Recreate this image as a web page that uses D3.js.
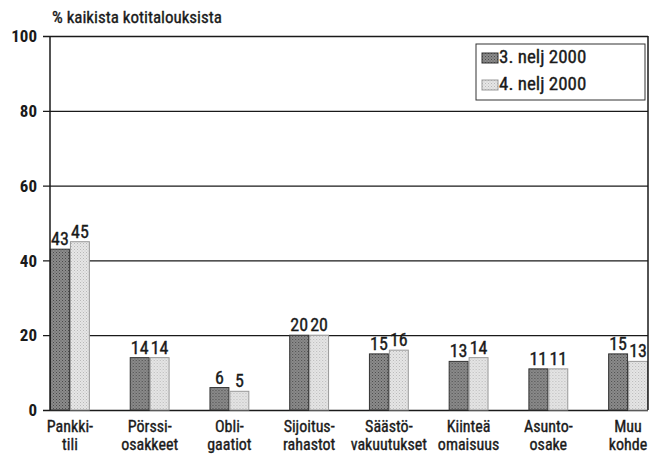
<!DOCTYPE html>
<html>
<head>
<meta charset="utf-8">
<script src="https://cdn.jsdelivr.net/npm/d3@7"></script>
<style>
  body { margin: 0; background: #fff; }
  text { font-family: "Liberation Sans Narrow", "Arial Narrow", "Roboto Condensed", "DejaVu Sans Condensed", sans-serif; fill: #1a1a1a; stroke: #1a1a1a; stroke-width: 0.35px; }
</style>
</head>
<body>
<script>
// data
var categories = [["Pankki-", "tili"], ["Pörssi-", "osakkeet"], ["Obli-", "gaatiot"],
                  ["Sijoitus-", "rahastot"], ["Säästö-", "vakuutukset"], ["Kiinteä", "omaisuus"],
                  ["Asunto-", "osake"], ["Muu", "kohde"]];
var seriesNames = ["3. nelj 2000", "4. nelj 2000"];
var q3 = [43, 14, 6, 20, 15, 13, 11, 15];
var q4 = [45, 14, 5, 20, 16, 14, 11, 13];
var yTicks = [0, 20, 40, 60, 80, 100];
var yTitle = "% kaikista kotitalouksista";

var width = 653, height = 458;
var margin = {top: 36, right: 5, bottom: 48, left: 50};
var w = width - margin.left - margin.right,
    h = height - margin.top - margin.bottom;

var svg = d3.select("body").append("svg")
    .attr("width", width)
    .attr("height", height);

// patterns for the two series
var defs = svg.append("defs");
var dark = defs.append("pattern").attr("id", "pDark")
    .attr("width", 3).attr("height", 3).attr("patternUnits", "userSpaceOnUse");
dark.append("rect").attr("width", 3).attr("height", 3).attr("fill", "#8c8c8c");
dark.append("rect").attr("width", 1).attr("height", 1).attr("fill", "#4a4a4a");
dark.append("rect").attr("x", 1.5).attr("y", 1.5).attr("width", 1).attr("height", 1).attr("fill", "#5a5a5a");
var light = defs.append("pattern").attr("id", "pLight")
    .attr("width", 3).attr("height", 3).attr("patternUnits", "userSpaceOnUse");
light.append("rect").attr("width", 3).attr("height", 3).attr("fill", "#e6e6e6");
light.append("rect").attr("width", 1).attr("height", 1).attr("fill", "#b8b8b8");
light.append("rect").attr("x", 1.5).attr("y", 1.5).attr("width", 1).attr("height", 1).attr("fill", "#c4c4c4");
var fills = ["url(#pDark)", "url(#pLight)"];
var strokes = ["#333", "#999"];

var g = svg.append("g")
    .attr("transform", "translate(" + margin.left + "," + margin.top + ")");

var x0 = d3.scaleBand().domain(d3.range(categories.length))
    .range([0, w]).paddingInner(0.5).paddingOuter(0).align(0);
var x1 = d3.scaleBand().domain([0, 1]).range([0, x0.bandwidth()]);
var y = d3.scaleLinear().domain([0, 100]).range([h, 0]);

// gridlines with little ticks to the left
g.append("g")
    .call(d3.axisLeft(y).tickValues(yTicks).tickSize(-w - 7).tickFormat(""))
    .attr("transform", "translate(-7,0)")
    .call(function(s) {
      s.select(".domain").remove();
      s.selectAll("line").attr("stroke", "#1a1a1a").attr("stroke-width", 1.3)
        .attr("x2", w + 7).attr("x1", 0);
    });

// y tick labels
g.append("g").selectAll("text")
    .data(yTicks)
  .enter().append("text")
    .attr("x", -13)
    .attr("y", function(d) { return y(d); })
    .attr("dy", "0.36em")
    .attr("text-anchor", "end")
    .style("font-size", "17px")
    .style("font-weight", "bold")
    .style("stroke-width", 0)
    .text(function(d) { return d; });

var series = [q3, q4];

var groups = g.selectAll(".grp")
    .data(categories)
  .enter().append("g")
    .attr("class", "grp")
    .attr("transform", function(d, i) { return "translate(" + x0(i) + ",0)"; });

groups.selectAll("rect")
    .data(function(d, i) { return series.map(function(s, k) { return {k: k, v: s[i]}; }); })
  .enter().append("rect")
    .attr("x", function(d) { return x1(d.k) + 0.5; })
    .attr("y", function(d) { return y(d.v); })
    .attr("width", x1.bandwidth() - 1)
    .attr("height", function(d) { return y(0) - y(d.v); })
    .attr("fill", function(d) { return fills[d.k]; })
    .attr("stroke", function(d) { return strokes[d.k]; })
    .attr("stroke-width", 1);

groups.selectAll(".val")
    .data(function(d, i) { return series.map(function(s, k) { return {k: k, v: s[i]}; }); })
  .enter().append("text")
    .attr("class", "val")
    .attr("x", function(d) { return x1(d.k) + x1.bandwidth() / 2; })
    .attr("y", function(d) { return y(d.v) - 4; })
    .attr("text-anchor", "middle")
    .style("font-size", "18px")
    .text(function(d) { return d.v; });

// category labels
groups.append("text")
    .attr("x", x0.bandwidth() / 2)
    .attr("y", h + 22)
    .attr("text-anchor", "middle")
    .style("font-size", "16px")
    .selectAll("tspan")
    .data(function(d) { return d; })
  .enter().append("tspan")
    .attr("x", x0.bandwidth() / 2)
    .attr("dy", function(d, i) { return i ? 18 : 0; })
    .text(function(d) { return d; });

// frame
g.append("line").attr("x1", 0).attr("x2", 0).attr("y1", 0).attr("y2", h)
    .attr("stroke", "#1a1a1a").attr("stroke-width", 1.5);
g.append("line").attr("x1", w).attr("x2", w).attr("y1", 0).attr("y2", h)
    .attr("stroke", "#1a1a1a").attr("stroke-width", 1.5);

// title
svg.append("text")
    .attr("x", 52)
    .attr("y", 23)
    .style("font-size", "17px")
    .text(yTitle);

// legend
var legend = g.append("g").attr("transform", "translate(426,8)");
legend.append("rect")
    .attr("width", 169).attr("height", 56)
    .attr("fill", "#fff").attr("stroke", "#333").attr("stroke-width", 1);
legend.selectAll(".sw")
    .data(seriesNames)
  .enter().append("rect")
    .attr("x", 6).attr("y", function(d, i) { return 9 + i * 27; })
    .attr("width", 16).attr("height", 10)
    .attr("fill", function(d, i) { return fills[i]; })
    .attr("stroke", function(d, i) { return strokes[i]; });
legend.selectAll(".lt")
    .data(seriesNames)
  .enter().append("text")
    .attr("x", 23).attr("y", function(d, i) { return 19 + i * 27; })
    .style("font-size", "19px")
    .text(function(d) { return d; });
</script>
</body>
</html>
